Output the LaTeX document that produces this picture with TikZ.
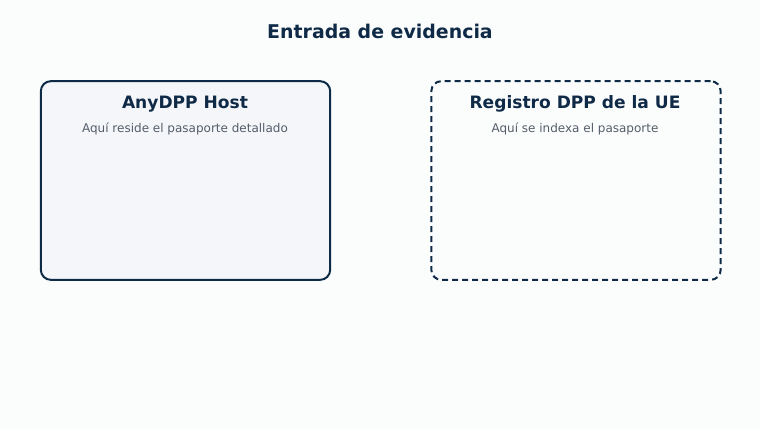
\documentclass[tikz,border=0pt]{standalone}
\usepackage{fontspec}
\setmainfont{DejaVu Sans}
\definecolor{bg}{HTML}{FBFDFD}
\definecolor{navy}{HTML}{0F2A47}
\definecolor{boxfill}{HTML}{F4F6F9}
\definecolor{subgray}{HTML}{555D6A}
\begin{document}
\begin{tikzpicture}[x=0.75pt,y=-0.75pt,
  panel/.style={draw=navy,line width=1.5pt,rounded corners=7.5pt,minimum width=217pt,minimum height=149pt,inner sep=0pt},
  paneltitle/.style={font=\bfseries\fontsize{12.8}{15}\selectfont,text=navy},
  panelsub/.style={font=\fontsize{9}{11}\selectfont,text=subgray}]
\fill[bg] (0,0) rectangle (760,430);
\useasboundingbox (0,0) rectangle (760,430);
\node[font=\bfseries\fontsize{14.2}{17}\selectfont,text=navy] (title) at (380,31.5) {Entrada de evidencia};
\node[panel,fill=boxfill] (host) at (185.5,180.5) {};
\node[panel,dashed,dash pattern=on 4.5pt off 3pt] (reg) at (576,180.5) {};
\node[paneltitle] (hostt) at (185,104) {AnyDPP Host};
\node[panelsub] (hosts) at (185,129) {Aquí reside el pasaporte detallado};
\node[paneltitle] (regt) at (575,104) {Registro DPP de la UE};
\node[panelsub] (regs) at (575,129) {Aquí se indexa el pasaporte};
\end{tikzpicture}
\end{document}
